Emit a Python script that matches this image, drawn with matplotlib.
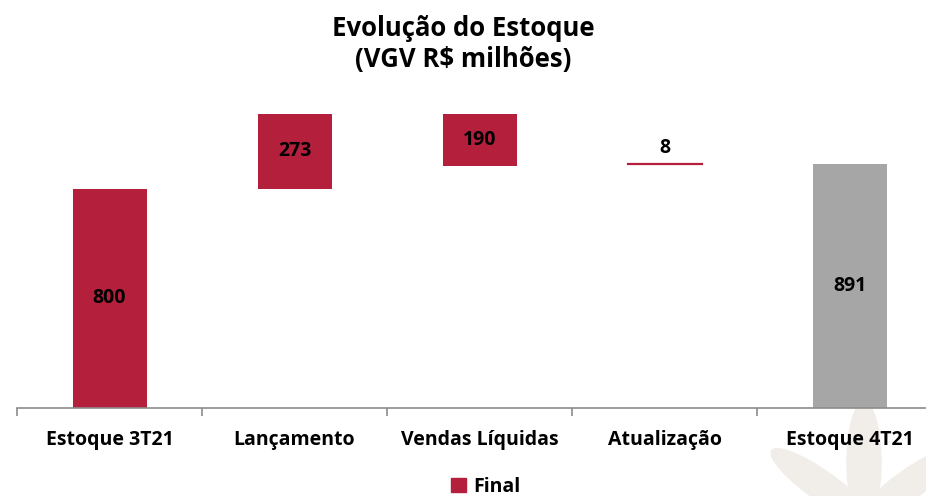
import matplotlib
matplotlib.use("Agg")
import matplotlib.pyplot as plt
from matplotlib.patches import Ellipse, Patch

# data
categories = ["Estoque 3T21", "Lançamento", "Vendas Líquidas", "Atualização", "Estoque 4T21"]
changes = [800, 273, -190, 8, 891]
kinds = ["total", "delta", "delta", "delta", "total"]
labels = ["800", "273", "190", "8", "891"]

red = "#B41F3C"
grey = "#A6A6A6"

plt.rcParams["font.family"] = ["Open Sans", "DejaVu Sans"]
plt.rcParams["font.weight"] = "bold"

fig = plt.figure(figsize=(9.26, 4.96), dpi=100)

# faint decorative petals in the lower right corner
for (cx, cy, w, h, ang) in [(864, 34, 34, 120, 0), (822, 10, 40, 90, 35), (910, 12, 40, 90, -35)]:
    fig.add_artist(Ellipse((cx / 926, cy / 496), w / 926, h / 496, angle=ang,
                           transform=fig.transFigure, color="#F1EDE8", zorder=0))

ax = fig.add_axes([17 / 926, 1 - 408 / 496, 925 / 926, 329 / 496])
ax.patch.set_alpha(0)

fs = 14
x = range(len(categories))
running = 0
for i, (c, k) in enumerate(zip(changes, kinds)):
    if k == "total":
        running = c
        color = red if i == 0 else grey
        ax.bar(i, c, 0.4, color=color, zorder=2)
        ax.text(i, c / 2, labels[i], ha="center", va="center", fontsize=fs, fontweight="bold")
    else:
        lo = min(running, running + c)
        hi = max(running, running + c)
        if abs(c) < 20:
            ax.plot([i - 0.2, i + 0.2], [running + c, running + c], color=red, lw=1.6, zorder=2)
            ax.text(i, hi + 20, labels[i], ha="center", va="bottom", fontsize=fs, fontweight="bold")
        else:
            ax.bar(i, hi - lo, 0.4, bottom=lo, color=red, zorder=2)
            ax.text(i, (lo + hi) / 2, labels[i], ha="center", va="center", fontsize=fs, fontweight="bold")
        running += c

ax.set_ylim(0, 1200)
ax.set_xlim(-0.5, len(categories) - 0.5)
ax.set_yticks([])
for s in ["top", "right", "left"]:
    ax.spines[s].set_visible(False)
ax.spines["bottom"].set_color("#8C8C8C")
ax.spines["bottom"].set_linewidth(1.2)
ax.set_xticks([i + 0.5 for i in range(-1, len(categories))])
ax.set_xticklabels([])
ax.tick_params(axis="x", which="major", length=6, color="#8C8C8C", width=1.2, direction="out")
ax.set_xticks(list(x), minor=True)
ax.set_xticklabels(categories, minor=True, fontsize=fs, fontweight="bold")
ax.tick_params(axis="x", which="minor", length=0, pad=16)

fig.text(0.5, 0.97, "Evolução do Estoque\n(VGV R$ milhões)", ha="center", va="top",
         fontsize=18.5, fontweight="bold", linespacing=1.2)

fig.legend(handles=[Patch(color=red, label="Final")], loc="center", bbox_to_anchor=(0.525, 0.018),
           frameon=False, fontsize=fs, handlelength=0.75, handleheight=0.75, handletextpad=0.4)

fig.savefig("out.png", dpi=100)
